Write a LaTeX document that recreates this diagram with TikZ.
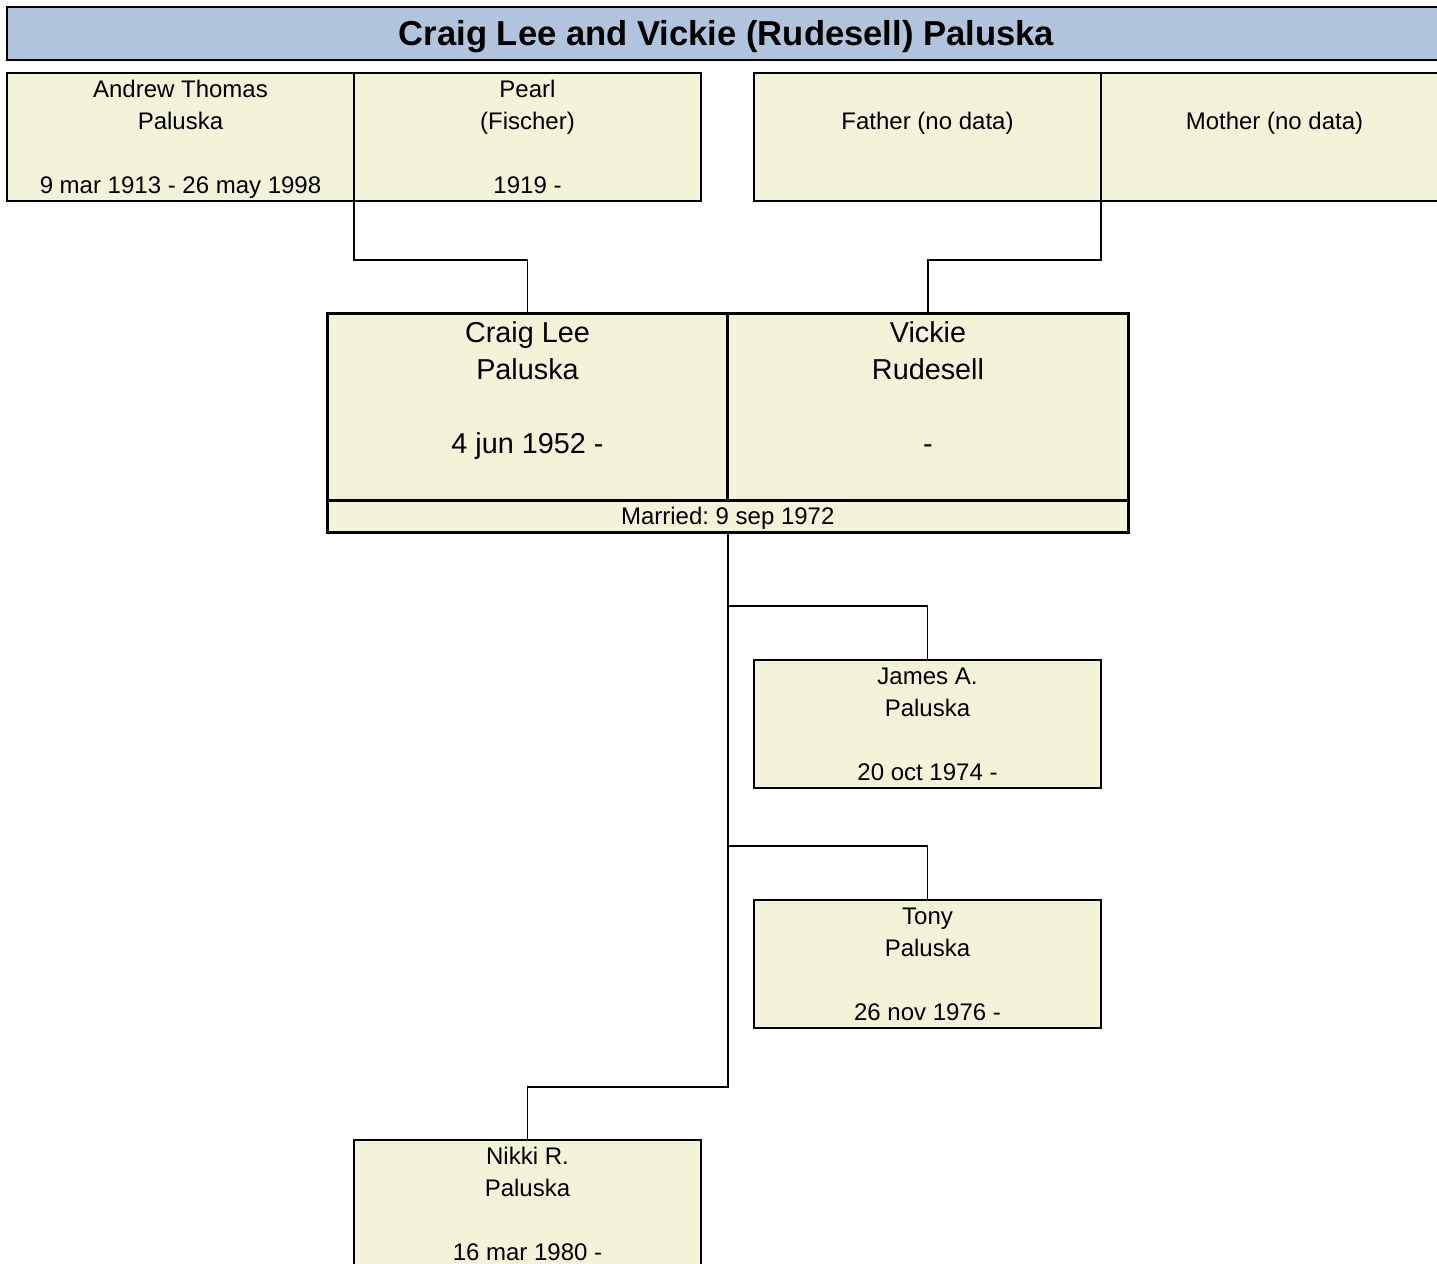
\documentclass[tikz,border=0pt]{standalone}
\usepackage{fontspec}
\setmainfont{Liberation Sans}
\usepackage{tikz}
\usetikzlibrary{positioning}
\definecolor{boxfill}{RGB}{243,243,218}
\definecolor{titlefill}{RGB}{176,196,222}
\newcommand{\pstrut}{\rule[-3.8pt]{0pt}{16pt}}
\newcommand{\cstrut}{\rule[-4.5pt]{0pt}{18.5pt}}
\newcommand{\pinfo}[3]{\pstrut#1\\\pstrut#2\\\pstrut\\\pstrut#3}
\newcommand{\cinfo}[3]{\cstrut#1\\\cstrut#2\\\cstrut\\\cstrut#3\\\cstrut}
\frenchspacing

\begin{document}
\begin{tikzpicture}[x=0.5pt,y=-0.5pt,
  person/.style={draw,line width=0.75pt,fill=boxfill,inner sep=0pt,outer sep=0pt,minimum width=173.5pt,minimum height=64pt,align=center,font=\fontsize{12}{16}\selectfont},
  couple/.style={draw,line width=1.5pt,fill=boxfill,inner sep=0pt,outer sep=0pt,minimum width=200.25pt,minimum height=93.5pt,align=center,font=\fontsize{14.4}{18.5}\selectfont},
  link/.style={draw,line width=0.8pt}]
\useasboundingbox (0,0) rectangle (1437,1264);
\clip (0,0) rectangle (1437,1264);
\fill[white] (0,0) rectangle (1437,1264);
\node[draw,line width=1.25pt,fill=titlefill,inner sep=0pt,outer sep=0pt,minimum width=719.5pt,minimum height=26.5pt,text height=14pt,text depth=1.6pt,font=\bfseries\fontsize{17.3}{20}\selectfont] (title) at (726.5,33.5) {Craig Lee and Vickie (Rudesell) Paluska};
% grandparents
\node[person] (gf) at (180.5,137) {\pinfo{Andrew Thomas}{Paluska}{9 mar 1913 - 26 may 1998}};
\node[person,right=0pt of gf] (gm) {\pinfo{Pearl}{(Fischer)}{1919 -}};
\node[person] (vf) at (927.5,137) {\pinfo{}{Father (no data)}{}};
\node[person,right=0pt of vf] (vm) {\pinfo{}{Mother (no data)}{}};
% couple
\node[couple] (craig) at (527.5,406.5) {\cinfo{Craig Lee}{Paluska}{4 jun 1952 -}};
\node[couple,right=0pt of craig] (vickie) {\cinfo{Vickie}{Rudesell}{-}};
\node[couple,minimum width=400.5pt,minimum height=16pt,font=\fontsize{12}{16}\selectfont,anchor=north] (married) at (craig.south east) {\pstrut Married: 9 sep 1972};
% children
\node[person] (james) at (927.5,724) {\pinfo{James A.}{Paluska}{20 oct 1974 -}};
\node[person] (tony) at (927.5,964) {\pinfo{Tony}{Paluska}{26 nov 1976 -}};
\node[person] (nikki) at (527.5,1204) {\pinfo{Nikki R.}{Paluska}{16 mar 1980 -}};
\draw[link] (gf.south east) -- ++(0,59) -| (craig.north);
\draw[link] (vf.south east) -- ++(0,59) -| (vickie.north);
\draw[link] (married.south) -- ++(0,74) -| (james.north);
\draw[link] (married.south) -- ++(0,314) -| (tony.north);
\draw[link] (married.south) -- ++(0,555) -| (nikki.north);
\end{tikzpicture}
\end{document}
